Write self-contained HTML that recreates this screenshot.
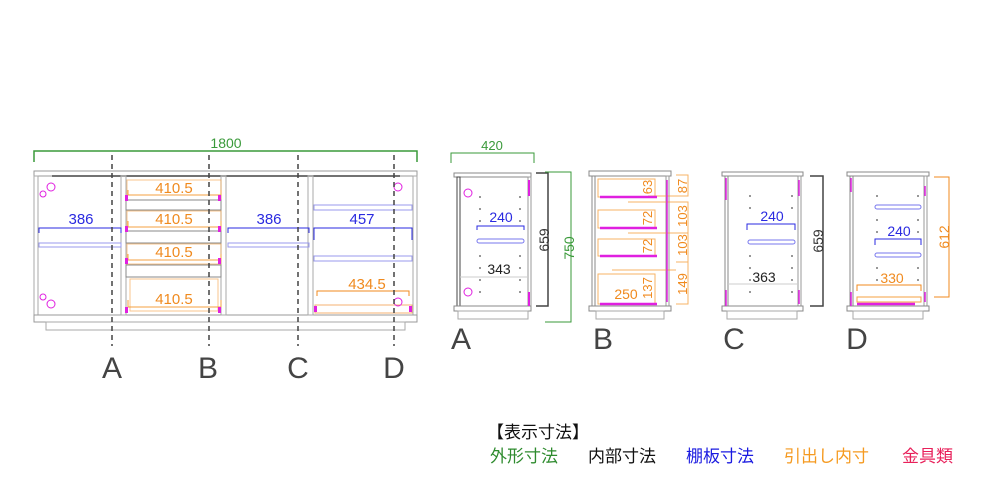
<!DOCTYPE html>
<html><head><meta charset="utf-8"><style>
html,body{margin:0;padding:0;background:#fff;width:1000px;height:500px;overflow:hidden}
svg{display:block}
text{font-family:"Liberation Sans","Noto Sans CJK JP",sans-serif}
</style></head><body>
<svg width="1000" height="500" viewBox="0 0 1000 500" xmlns="http://www.w3.org/2000/svg">
<g fill="none" stroke-width="1">
<!-- main front view -->
<path d="M34 162 V151 H417 V162" stroke="#3a9a3a" stroke-width="1.5"/>
<text x="226" y="148" font-size="14" fill="#3a9a3a" stroke="none" text-anchor="middle">1800</text>
<rect x="34" y="171" width="383" height="5" stroke="#999"/>
<line x1="52" y1="176" x2="400" y2="176" stroke="#444" stroke-width="1.5"/>
<rect x="34" y="176" width="4" height="139" stroke="#aaa"/>
<rect x="413" y="176" width="4" height="139" stroke="#aaa"/>
<rect x="34" y="315" width="383" height="7" stroke="#999"/>
<rect x="46" y="322" width="359" height="8" stroke="#aaa"/>
<rect x="121" y="176" width="5" height="139" stroke="#aaa"/>
<rect x="221" y="176" width="5" height="139" stroke="#aaa"/>
<rect x="308" y="176" width="5" height="139" stroke="#aaa"/>
<!-- drawers -->
<g stroke="#f5a040">
<rect x="127" y="180" width="94" height="20" stroke-opacity="0.6"/>
<rect x="127" y="211" width="94" height="20" stroke-opacity="0.6"/>
<rect x="127" y="244" width="94" height="20" stroke-opacity="0.6"/>
<rect x="130" y="279" width="88" height="32" stroke-opacity="0.6"/>
<path d="M128 190 V195 H221 V190 M128 221 V227 H221 V221 M128 254 V260 H221 V254 M128 300 V307 H221 V300"/>
</g>
<g stroke="#888"><rect x="126" y="200" width="95" height="10"/><rect x="126" y="231" width="95" height="12"/><rect x="126" y="265" width="95" height="12"/></g>
<g font-size="15" fill="#f08a1e" stroke="none" text-anchor="middle">
<text x="174" y="193">410.5</text><text x="174" y="224">410.5</text><text x="174" y="257">410.5</text><text x="174" y="304">410.5</text>
<text x="367" y="289">434.5</text></g>
<path d="M317 296 V291 H409 V296" stroke="#f08a1e"/>
<rect x="315" y="305" width="97" height="8" stroke="#f5b070"/>
<!-- shelves blue -->
<g stroke="#2a2ae0">
<path d="M39 233 V228 H121 V233 M228 233 V228 H309 V233 M314 240 V228 H412 V240"/>
</g>
<g stroke="#9999ee">
<rect x="39" y="243" width="82" height="4"/><rect x="228" y="243" width="81" height="4"/>
<rect x="314" y="205" width="98" height="5"/><rect x="314" y="256" width="98" height="5"/>
</g>
<g font-size="15" fill="#2a2ae0" stroke="none" text-anchor="middle">
<text x="81" y="224">386</text><text x="269" y="224">386</text><text x="362" y="224">457</text></g>
<!-- hardware -->
<g stroke="#e020e0">
<circle cx="51" cy="187" r="4"/><circle cx="51" cy="304" r="4"/><circle cx="398" cy="187" r="4"/><circle cx="398" cy="302" r="4"/>
<circle cx="43" cy="194" r="3"/><circle cx="43" cy="297" r="3"/>
</g>
<g fill="#e020e0" stroke="none">
<rect x="125" y="195" width="3" height="6"/><rect x="218" y="195" width="3" height="6"/>
<rect x="125" y="226" width="3" height="6"/><rect x="218" y="226" width="3" height="6"/>
<rect x="125" y="258" width="3" height="6"/><rect x="218" y="258" width="3" height="6"/>
<rect x="125" y="307" width="3" height="6"/><rect x="218" y="307" width="3" height="6"/>
<rect x="314" y="306" width="3" height="6"/><rect x="409" y="306" width="3" height="6"/>
</g>
<!-- dashed -->
<g stroke="#444" stroke-width="1.5" stroke-dasharray="5,4">
<line x1="112" y1="155" x2="112" y2="346"/><line x1="209" y1="155" x2="209" y2="346"/>
<line x1="298" y1="155" x2="298" y2="346"/><line x1="394" y1="155" x2="394" y2="346"/>
</g>
<g font-size="30" fill="#444" stroke="none" text-anchor="middle">
<text x="112" y="378">A</text><text x="208" y="378">B</text><text x="298" y="378">C</text><text x="394" y="378">D</text>
<text x="461" y="349">A</text><text x="603" y="349">B</text><text x="734" y="349">C</text><text x="857" y="349">D</text></g>

<!-- side A -->
<path d="M451 163 V153 H534 V163" stroke="#3a9a3a"/>
<text x="492" y="150" font-size="13" fill="#3a9a3a" stroke="none" text-anchor="middle">420</text>
<rect x="454" y="173" width="77" height="4" stroke="#888"/>
<rect x="457" y="177" width="3" height="129" stroke="#444"/>
<rect x="528" y="177" width="3" height="129" stroke="#999"/>
<rect x="454" y="306" width="77" height="5" stroke="#888"/>
<rect x="458" y="311" width="70" height="8" stroke="#aaa"/>
<line x1="460" y1="277" x2="528" y2="277" stroke="#ccc"/>
<path d="M536 173 H548 V306 H536" stroke="#444" stroke-width="1.5"/>
<path d="M545 172 H571 V322 H545" stroke="#3a9a3a"/>
<text transform="translate(549,240) rotate(-90)" font-size="14" fill="#333" stroke="none" text-anchor="middle">659</text>
<text transform="translate(574,248) rotate(-90)" font-size="14" fill="#3a9a3a" stroke="none" text-anchor="middle">750</text>
<path d="M477 230 V226 H524 V230" stroke="#2a2ae0"/>
<rect x="477" y="239" width="47" height="4" rx="2" stroke="#7777ee"/>
<text x="501" y="222" font-size="14" fill="#2a2ae0" stroke="none" text-anchor="middle">240</text>
<text x="499" y="274" font-size="14" fill="#222" stroke="none" text-anchor="middle">343</text>
<g stroke="#e020e0"><circle cx="468" cy="193" r="4"/><circle cx="468" cy="292" r="4"/><line x1="529" y1="180" x2="529" y2="196" stroke-width="2"/><line x1="529" y1="292" x2="529" y2="306" stroke-width="2"/></g>

<!-- side B -->
<rect x="589" y="171" width="82" height="5" stroke="#888"/>
<rect x="592" y="176" width="3" height="130" stroke="#888"/>
<rect x="666" y="176" width="3" height="130" stroke="#999"/>
<rect x="589" y="306" width="82" height="5" stroke="#888"/>
<rect x="596" y="311" width="68" height="8" stroke="#aaa"/>
<g stroke="#f5a040" stroke-opacity="0.8">
<rect x="598" y="179" width="57" height="18"/><rect x="598" y="210" width="57" height="18"/>
<rect x="598" y="239" width="57" height="17"/><rect x="598" y="274" width="57" height="30"/>
<path d="M648 196 H676 M628 202 H676 M628 233 H676 M612 270 H676"/>
<path d="M676 175 H688 V196 H676 M676 202 H688 V233 H676 M676 233 H688 V262 H676 M676 262 H688 V304 H676"/>
</g>
<g stroke="#e020e0" stroke-width="2.5">
<line x1="600" y1="197" x2="657" y2="197"/><line x1="600" y1="228" x2="657" y2="228"/>
<line x1="600" y1="256" x2="657" y2="256"/><line x1="600" y1="304" x2="657" y2="304"/>
<line x1="667" y1="180" x2="667" y2="302" stroke-width="1.5"/>
</g>
<g font-size="13" fill="#f08a1e" stroke="none" text-anchor="middle">
<text transform="translate(652,187) rotate(-90)">63</text>
<text transform="translate(652,218) rotate(-90)">72</text>
<text transform="translate(652,246) rotate(-90)">72</text>
<text transform="translate(652,288) rotate(-90)">137</text>
<text transform="translate(687,186) rotate(-90)">87</text>
<text transform="translate(687,216) rotate(-90)">103</text>
<text transform="translate(687,245) rotate(-90)">103</text>
<text transform="translate(687,284) rotate(-90)">149</text>
<text x="626" y="299" font-size="14">250</text>
</g>

<!-- side C -->
<rect x="722" y="172" width="81" height="4" stroke="#888"/>
<rect x="725" y="176" width="3" height="130" stroke="#888"/>
<rect x="798" y="176" width="3" height="130" stroke="#999"/>
<rect x="722" y="306" width="81" height="5" stroke="#888"/>
<rect x="727" y="311" width="70" height="8" stroke="#aaa"/>
<line x1="728" y1="284" x2="798" y2="284" stroke="#ccc"/>
<path d="M810 176 H823 V306 H810" stroke="#444" stroke-width="1.5"/>
<text transform="translate(823,241) rotate(-90)" font-size="14" fill="#333" stroke="none" text-anchor="middle">659</text>
<path d="M747 230 V224 H795 V230" stroke="#2a2ae0"/>
<rect x="748" y="240" width="47" height="4" rx="2" stroke="#7777ee"/>
<text x="772" y="221" font-size="14" fill="#2a2ae0" stroke="none" text-anchor="middle">240</text>
<text x="764" y="282" font-size="14" fill="#222" stroke="none" text-anchor="middle">363</text>
<g stroke="#e020e0" stroke-width="1.5"><line x1="726" y1="178" x2="726" y2="200"/><line x1="726" y1="290" x2="726" y2="306"/><line x1="799" y1="180" x2="799" y2="196"/><line x1="799" y1="290" x2="799" y2="304"/></g>

<!-- side D -->
<rect x="847" y="172" width="82" height="4" stroke="#888"/>
<rect x="850" y="176" width="3" height="130" stroke="#888"/>
<rect x="924" y="176" width="3" height="130" stroke="#999"/>
<rect x="847" y="306" width="82" height="5" stroke="#888"/>
<rect x="853" y="311" width="70" height="8" stroke="#aaa"/>
<path d="M934 177 H949 V297 H934" stroke="#f08a1e"/>
<text transform="translate(949,237) rotate(-90)" font-size="14" fill="#f08a1e" stroke="none" text-anchor="middle">612</text>
<rect x="875" y="205" width="46" height="4" rx="2" stroke="#7777ee"/>
<rect x="875" y="253" width="46" height="4" rx="2" stroke="#7777ee"/>
<path d="M875 245 V239 H921 V245" stroke="#2a2ae0"/>
<text x="899" y="236" font-size="14" fill="#2a2ae0" stroke="none" text-anchor="middle">240</text>
<path d="M857 291 V285 H921 V291" stroke="#f08a1e"/>
<rect x="857" y="297" width="64" height="5" stroke="#f5a040"/>
<line x1="857" y1="304" x2="915" y2="304" stroke="#e020e0" stroke-width="2.5"/>
<text x="892" y="283" font-size="14" fill="#f08a1e" stroke="none" text-anchor="middle">330</text>
<g stroke="#e020e0" stroke-width="1.5"><line x1="851" y1="178" x2="851" y2="192"/><line x1="851" y1="292" x2="851" y2="306"/><line x1="925" y1="186" x2="925" y2="196"/><line x1="925" y1="292" x2="925" y2="302"/></g>
</g>
<!-- dot grids -->
<g fill="#777">
<circle cx="480" cy="197" r="1"/><circle cx="520" cy="197" r="1"/><circle cx="480" cy="209" r="1"/><circle cx="520" cy="209" r="1"/><circle cx="480" cy="221" r="1"/><circle cx="520" cy="221" r="1"/><circle cx="480" cy="256" r="1"/><circle cx="520" cy="256" r="1"/><circle cx="480" cy="268" r="1"/><circle cx="520" cy="268" r="1"/><circle cx="480" cy="280" r="1"/><circle cx="520" cy="280" r="1"/><circle cx="480" cy="292" r="1"/><circle cx="520" cy="292" r="1"/>
<circle cx="750" cy="196" r="1"/><circle cx="792" cy="196" r="1"/><circle cx="750" cy="208" r="1"/><circle cx="792" cy="208" r="1"/><circle cx="750" cy="256" r="1"/><circle cx="792" cy="256" r="1"/><circle cx="750" cy="268" r="1"/><circle cx="792" cy="268" r="1"/><circle cx="750" cy="280" r="1"/><circle cx="792" cy="280" r="1"/><circle cx="750" cy="292" r="1"/><circle cx="792" cy="292" r="1"/>
<circle cx="877" cy="196" r="1"/><circle cx="918" cy="196" r="1"/><circle cx="877" cy="220" r="1"/><circle cx="918" cy="220" r="1"/><circle cx="877" cy="232" r="1"/><circle cx="918" cy="232" r="1"/><circle cx="877" cy="268" r="1"/><circle cx="918" cy="268" r="1"/><circle cx="877" cy="280" r="1"/><circle cx="918" cy="280" r="1"/>
</g>
<!-- legend -->
<g font-size="17" stroke="none" font-family="'Liberation Sans','Noto Sans CJK JP',sans-serif">
<text x="487" y="438" fill="#111">【表示寸法】</text>
<text x="490" y="462" fill="#2e8b2e">外形寸法</text>
<text x="588" y="462" fill="#111">内部寸法</text>
<text x="686" y="462" fill="#1a1ae0">棚板寸法</text>
<text x="784" y="462" fill="#f59a20">引出し内寸</text>
<text x="902" y="462" fill="#e8205a">金具類</text>
</g>
</svg>
</body></html>
